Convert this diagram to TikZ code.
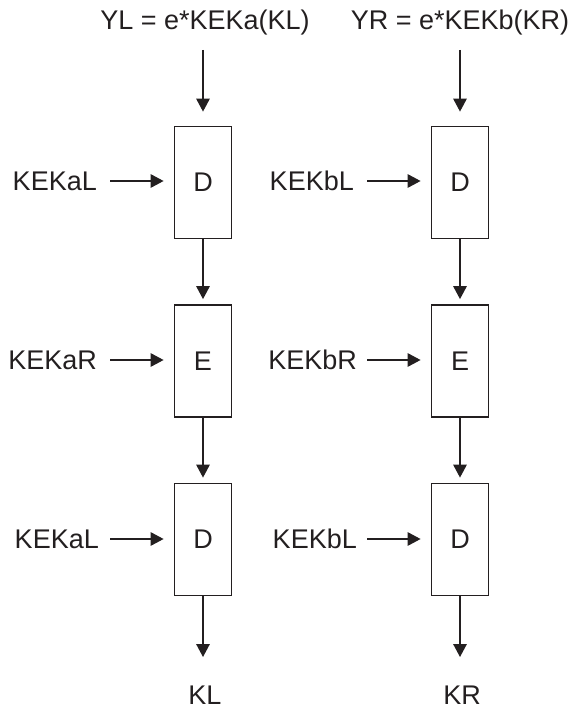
\documentclass[tikz,border=0pt]{standalone}
\usepackage{fontspec}
\setmainfont{Liberation Sans}
\usetikzlibrary{arrows.meta}
\definecolor{ink}{HTML}{231F20}
\begin{document}
\begin{tikzpicture}[x=1pt,y=-1pt,
  lab/.style={inner sep=0pt, text=ink, font=\fontsize{27}{30}\selectfont},
  blk/.style={draw=ink, line width=1.8pt, minimum width=57pt, minimum height=112pt, inner sep=0pt, text=ink, font=\fontsize{27}{30}\selectfont},
  arr/.style={draw=ink, line width=1.5pt, -{Triangle[length=13pt,width=13.5pt]}}]
\useasboundingbox (0,0) rectangle (570,709);
% boxes
\node[blk] (d1) at (203,182.5) {D};
\node[blk] (e1) at (203,361) {E};
\node[blk] (f1) at (203,539.5) {D};
\node[blk] (d2) at (460,182.5) {D};
\node[blk] (e2) at (460,361) {E};
\node[blk] (f2) at (460,539.5) {D};
% top labels
\node[lab, anchor=base] (yl) at (205,30) {YL = e*KEKa(KL)};
\node[lab, anchor=base] (yr) at (460,30) {YR = e*KEKb(KR)};
% bottom labels
\node[lab, anchor=base] (kl) at (205,704) {KL};
\node[lab, anchor=base] (kr) at (462,704) {KR};
% side labels
\node[lab, anchor=east] (la1) at (97,181) {KEKaL};
\node[lab, anchor=east] (la2) at (97,360) {KEKaR};
\node[lab, anchor=east] (la3) at (99,539) {KEKaL};
\node[lab, anchor=east] (lb1) at (354,181) {KEKbL};
\node[lab, anchor=east] (lb2) at (357,360) {KEKbR};
\node[lab, anchor=east] (lb3) at (357,539) {KEKbL};
% coordinates for free ends
\coordinate (s1) at (203,50);
\coordinate (s2) at (460,50);
\coordinate (o1) at (203,657);
\coordinate (o2) at (460,657);
% vertical arrows
\draw[arr, shorten >=14pt] (s1) -- (d1.north);
\draw[arr, shorten >=14pt] (s2) -- (d2.north);
\draw[arr, shorten >=5pt] (d1) -- (e1);
\draw[arr, shorten >=5pt] (e1) -- (f1);
\draw[arr, shorten >=5pt] (d2) -- (e2);
\draw[arr, shorten >=5pt] (e2) -- (f2);
\draw[arr] (f1) -- (o1);
\draw[arr] (f2) -- (o2);
% horizontal arrows
\draw[arr, shorten <=13pt, shorten >=10pt] (la1.east) -- (la1.east -| d1.west);
\draw[arr, shorten <=13pt, shorten >=10pt] (la2.east) -- (la2.east -| e1.west);
\draw[arr, shorten <=11pt, shorten >=10pt] (la3.east) -- (la3.east -| f1.west);
\draw[arr, shorten <=13pt, shorten >=10pt] (lb1.east) -- (lb1.east -| d2.west);
\draw[arr, shorten <=10pt, shorten >=10pt] (lb2.east) -- (lb2.east -| e2.west);
\draw[arr, shorten <=10pt, shorten >=10pt] (lb3.east) -- (lb3.east -| f2.west);
\end{tikzpicture}
\end{document}
